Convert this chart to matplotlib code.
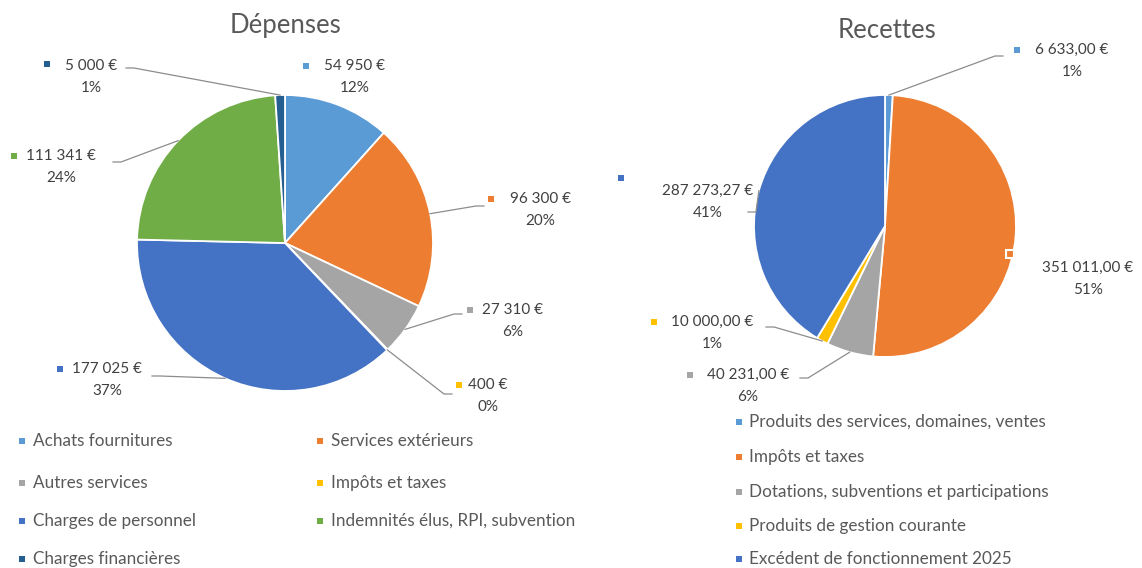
import matplotlib.pyplot as plt
import numpy as np

plt.rcParams["font.family"] = ["Lato", "DejaVu Sans"]

# data
dep_labels = ["Achats fournitures", "Services extérieurs", "Autres services",
              "Impôts et taxes", "Charges de personnel",
              "Indemnités élus, RPI, subvention", "Charges financières"]
dep_values = [54950, 96300, 27310, 400, 177025, 111341, 5000]
dep_pct = [12, 20, 6, 0, 37, 24, 1]

rec_labels = ["Produits des services, domaines, ventes", "Impôts et taxes",
              "Dotations, subventions et participations",
              "Produits de gestion courante", "Excédent de fonctionnement 2025"]
rec_values = [6633.00, 351011.00, 40231.00, 10000.00, 287273.27]
rec_pct = [1, 51, 6, 1, 41]

dep_colors = ["#5B9BD5", "#ED7D31", "#A5A5A5", "#FFC000", "#4472C4", "#70AD47", "#255E91"]
rec_colors = ["#5B9BD5", "#ED7D31", "#A5A5A5", "#FFC000", "#4472C4"]

# layout (pixel coords): marker x/y, text centre x/y, leader anchor
dep_lbl_pos = [(306, 66, 355, 66, None),
               (491, 199, 540, 199, (484, 206)),
               (470, 310, 513, 310, (462, 314)),
               (459, 385, 488, 385, (452, 394)),
               (60, 369, 107, 369, (152, 376)),
               (14, 156, 61, 156, (113, 162)),
               (47, 64, 91, 66, (126, 68))]
rec_lbl_pos = [(1017, 50, 1072, 50, (1003, 56)),
               (1010, 254, 1088, 268, None),
               (690, 375, 748, 375, (800, 378)),
               (654, 322, 712, 322, (766, 327)),
               (621, 178, 708, 191, (748, 212))]

W, H = 1142, 568
fig = plt.figure(figsize=(W / 100, H / 100), dpi=100)
ax = fig.add_axes([0, 0, 1, 1])


def fmt_int(v):
    return f"{v:,.0f} €".replace(",", " ")


def fmt_dec(v):
    return f"{v:,.2f} €".replace(",", " ").replace(".", ",")


def draw_pie(values, pct, colors, center, radius, lbl_pos, fmt):
    ax.pie(values, colors=colors, center=center, radius=radius,
           startangle=-90, counterclock=True, frame=True,
           wedgeprops=dict(edgecolor="white", linewidth=1.3))
    total = sum(values)
    cum = np.cumsum([0] + list(values))
    for i, v in enumerate(values):
        mx, my, tx, ty, anchor = lbl_pos[i]
        ax.text(tx, ty, fmt(v), ha="center", va="center", fontsize=11, color="#404040")
        ax.text(tx, ty + 22, f"{pct[i]}%", ha="center", va="center",
                fontsize=11, color="#404040")
        boxed = anchor is None and i == 1
        ax.plot(mx, my, "s", ms=6 if boxed else 5, color=colors[i],
                mec="white" if boxed else colors[i], mew=1.5 if boxed else 0)
        if anchor is not None:
            mid = (cum[i] + v / 2) / total
            th = np.deg2rad(-90 + 360 * mid)
            ex = center[0] + radius * np.cos(th)
            ey = center[1] + radius * np.sin(th)
            sx = anchor[0] - 8 if anchor[0] > ex else anchor[0] + 8
            ax.plot([ex, sx, anchor[0]], [ey, anchor[1], anchor[1]],
                    color="#8C8C8C", lw=0.9)


draw_pie(dep_values, dep_pct, dep_colors, (285, 243), 148, dep_lbl_pos, fmt_int)
draw_pie(rec_values, rec_pct, rec_colors, (885, 226), 131, rec_lbl_pos, fmt_dec)
ax.set_xlim(0, W)
ax.set_ylim(H, 0)
ax.axis("off")

ax.text(285, 25, "Dépenses", ha="center", va="center", fontsize=18.5, color="#595959")
ax.text(887, 30, "Recettes", ha="center", va="center", fontsize=18.5, color="#595959")

# legends
dep_leg_pos = [(22, 441), (320, 441), (22, 483), (320, 483), (22, 521), (320, 521), (22, 559)]
for (lx, ly), lab, c in zip(dep_leg_pos, dep_labels, dep_colors):
    ax.plot(lx, ly, "s", ms=5, color=c, mew=0)
    ax.text(lx + 11, ly, lab, ha="left", va="center", fontsize=12.3, color="#595959")

rec_leg_y = [422, 457, 492, 526, 559]
for ly, lab, c in zip(rec_leg_y, rec_labels, rec_colors):
    ax.plot(739, ly, "s", ms=5, color=c, mew=0)
    ax.text(749, ly, lab, ha="left", va="center", fontsize=12.3, color="#595959")

fig.savefig("out.png", dpi=100)
